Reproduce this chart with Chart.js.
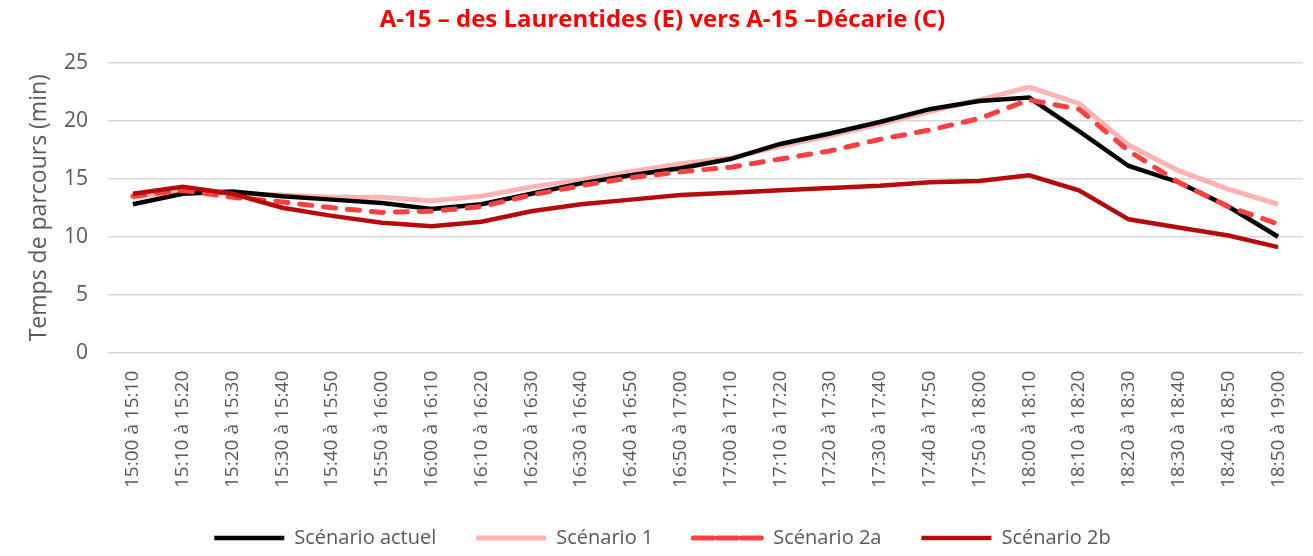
<!DOCTYPE html>
<html>
<head>
<meta charset="utf-8">
<script src="https://cdn.jsdelivr.net/npm/chart.js@4"></script>
<style>
  html, body { margin: 0; padding: 0; background: #fff; }
  #wrap { width: 1313px; height: 556px; }
</style>
</head>
<body>
<div id="wrap"><canvas id="chart"></canvas></div>
<script>
const labels = ['15:00 à 15:10', '15:10 à 15:20', '15:20 à 15:30', '15:30 à 15:40', '15:40 à 15:50', '15:50 à 16:00',
  '16:00 à 16:10', '16:10 à 16:20', '16:20 à 16:30', '16:30 à 16:40', '16:40 à 16:50', '16:50 à 17:00',
  '17:00 à 17:10', '17:10 à 17:20', '17:20 à 17:30', '17:30 à 17:40', '17:40 à 17:50', '17:50 à 18:00',
  '18:00 à 18:10', '18:10 à 18:20', '18:20 à 18:30', '18:30 à 18:40', '18:40 à 18:50', '18:50 à 19:00'];

const actuel = [12.8, 13.7, 13.9, 13.5, 13.2, 12.9, 12.4, 12.8, 13.7, 14.6, 15.3, 15.9, 16.7, 18.0, 18.9, 19.9, 21.0, 21.7, 22.0, 19.1, 16.1, 14.7, 12.6, 10.0];
const scenario1 = [13.4, 14.0, 13.7, 13.6, 13.4, 13.4, 13.1, 13.5, 14.3, 14.9, 15.6, 16.3, 16.8, 17.8, 18.7, 19.7, 20.8, 21.8, 22.9, 21.5, 17.9, 15.7, 14.1, 12.8];
const scenario2a = [13.5, 14.0, 13.4, 13.0, 12.5, 12.1, 12.2, 12.6, 13.6, 14.4, 15.1, 15.6, 16.0, 16.7, 17.4, 18.4, 19.2, 20.2, 21.8, 21.0, 17.4, 14.7, 12.6, 11.1];
const scenario2b = [13.7, 14.3, 13.7, 12.5, 11.8, 11.2, 10.9, 11.3, 12.2, 12.8, 13.2, 13.6, 13.8, 14.0, 14.2, 14.4, 14.7, 14.8, 15.3, 14.0, 11.5, 10.8, 10.1, 9.1];

const yTicks = [0, 5, 10, 15, 20, 25];

const grey = '#595959';
const font = 'Open Sans';

// let the rotated x labels run a little into the legend band, like the original
const legendFit = {
  id: 'legendFit',
  afterInit(chart) {
    const legend = chart.legend;
    const fit = legend.fit;
    legend.fit = function () { fit.call(this); this.height -= 12; };
  },
  afterLayout(chart) {
    chart.legend.top -= 10;
    chart.legend.bottom -= 10;
  }
};

new Chart(document.getElementById('chart').getContext('2d'), {
  type: 'line',
  data: {
    labels: labels,
    datasets: [
      { label: 'Scénario actuel', data: actuel, borderColor: '#000000', backgroundColor: '#000000', borderWidth: 4.5, order: 3 },
      { label: 'Scénario 1', data: scenario1, borderColor: '#FFB3B3', backgroundColor: '#FFB3B3', borderWidth: 5, order: 4 },
      { label: 'Scénario 2a', data: scenario2a, borderColor: '#FF4040', backgroundColor: '#FF4040', borderWidth: 5, borderDash: [12, 12], borderCapStyle: 'round', order: 2 },
      { label: 'Scénario 2b', data: scenario2b, borderColor: '#B40C0C', backgroundColor: '#B40C0C', borderWidth: 4.5, order: 1 }
    ]
  },
  options: {
    responsive: true,
    maintainAspectRatio: false,
    animation: false,
    elements: { point: { radius: 0 }, line: { tension: 0 } },
    layout: { padding: { left: 22, right: 10, top: 0, bottom: 0 } },
    plugins: {
      title: {
        display: true,
        text: 'A-15 – des Laurentides (E) vers A-15 –Décarie (C)',
        color: '#FF0000',
        font: { family: font, size: 24, weight: 'bold' },
        padding: { top: 6, bottom: 28 }
      },
      legend: {
        position: 'bottom',
        labels: {
          boxWidth: 70,
          boxHeight: 0,
          padding: 40,
          color: grey,
          font: { family: font, size: 20 },
          sort: (a, b) => a.datasetIndex - b.datasetIndex
        }
      },
      tooltip: { enabled: false }
    },
    scales: {
      x: {
        offset: true,
        grid: { display: false },
        border: { display: false },
        ticks: { color: grey, font: { family: font, size: 19 }, maxRotation: 90, minRotation: 90, autoSkip: false, padding: 10 }
      },
      y: {
        min: 0,
        max: 25,
        afterBuildTicks: axis => { axis.ticks = yTicks.map(v => ({ value: v })); },
        afterFit: axis => { axis.width = 86; },
        grid: { color: '#D9D9D9', lineWidth: 1.5, drawTicks: false },
        border: { display: false },
        ticks: { color: grey, font: { family: font, size: 21 }, padding: 20 },
        title: { display: true, text: 'Temps de parcours (min)', color: grey, font: { family: font, size: 23 }, padding: 4 }
      }
    }
  },
  plugins: [legendFit]
});
</script>
</body>
</html>
